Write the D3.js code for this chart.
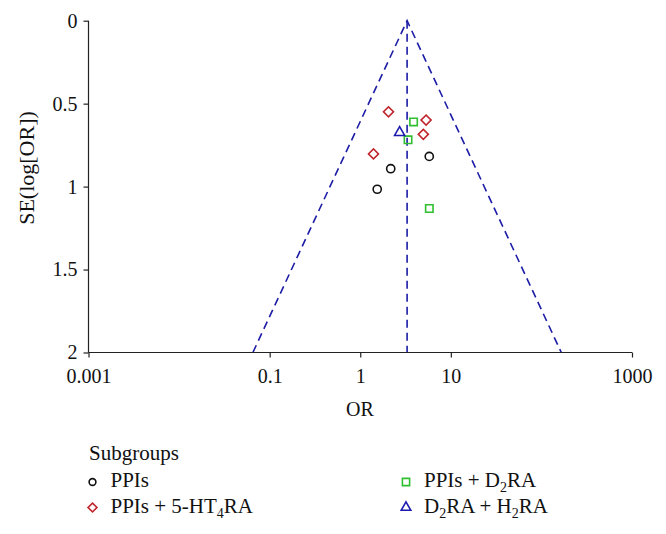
<!DOCTYPE html>
<html><head><meta charset="utf-8">
<script src="https://cdn.jsdelivr.net/npm/d3@7"></script>
<style>body{margin:0;background:#fff}svg{display:block}text{font-family:"Liberation Serif","DejaVu Serif",serif}</style>
</head><body>
<svg id="c" width="666" height="534"></svg>
<script>
// Data
const subgroups = ["PPIs", "PPIs + 5-HT4RA", "PPIs + D2RA", "D2RA + H2RA"];
const ppisOR = [5.78, 2.17, 1.54];
const ppisSE = [0.818, 0.892, 1.016];
const ppis5htOR = [2.05, 5.33, 4.97, 1.40];
const ppis5htSE = [0.549, 0.599, 0.685, 0.803];
const ppisD2OR = [3.88, 3.37, 5.79];
const ppisD2SE = [0.610, 0.718, 1.132];
const d2h2OR = [2.72];
const d2h2SE = [0.674];
const pooledOR = 3.29;
const xTicks = [0.001, 0.1, 1, 10, 1000];
const xTickLabels = ["0.001", "0.1", "1", "10", "1000"];
const yTicks = [0, 0.5, 1, 1.5, 2];

const svg = d3.select("#c");
const x = d3.scaleLog().domain([0.001, 1000]).range([88.5, 632]);
const y = d3.scaleLinear().domain([0, 2]).range([20.7, 352.5]);

const dashCol = "#1c1ca6";
// funnel
const seDom = y.domain();
const funnel = d3.line().x(d => x(d[0])).y(d => y(d[1]));
const lo = seDom.map(s => [Math.exp(Math.log(pooledOR) - 1.96 * s), s]);
const hi = seDom.map(s => [Math.exp(Math.log(pooledOR) + 1.96 * s), s]);
const g = svg.append("g");
g.append("path").attr("d", funnel(lo.slice().reverse().concat(hi)))
  .attr("fill", "none").attr("stroke", dashCol).attr("stroke-width", 1.6).attr("stroke-dasharray", "8,5");
g.append("path").attr("d", funnel(seDom.map(s => [pooledOR, s])))
  .attr("fill", "none").attr("stroke", dashCol).attr("stroke-width", 1.6).attr("stroke-dasharray", "8,5");

// axes
const xa = svg.append("g").attr("transform", `translate(0,${y(2)})`)
  .call(d3.axisBottom(x).tickValues(xTicks).tickFormat((d, i) => xTickLabels[i]).tickSize(5).tickPadding(11));
const ya = svg.append("g").attr("transform", `translate(${x(0.001)},0)`)
  .call(d3.axisLeft(y).tickValues(yTicks).tickFormat(d => String(d)).tickSize(5).tickPadding(6));
[xa, ya].forEach(a => {
  a.select(".domain").attr("stroke", "#222").attr("stroke-width", 1.2);
  a.selectAll(".tick line").attr("stroke", "#222").attr("stroke-width", 1.2);
  a.selectAll("text").attr("font-size", 20).attr("fill", "#111")
   .style("font-family", '"Liberation Serif","DejaVu Serif",serif');
});
xa.select(".domain").attr("d", `M${x.range()[0]},0H${x.range()[1]}`);
ya.select(".domain").attr("d", `M0,${y.range()[0]}V${y.range()[1]}`);

svg.append("text").attr("x", 360).attr("y", 416).attr("text-anchor", "middle")
  .attr("font-size", 20).attr("fill", "#111").text("OR");
svg.append("text").attr("transform", "translate(34,168) rotate(-90)").attr("text-anchor", "middle")
  .attr("font-size", 22).attr("fill", "#111").text("SE(log[OR])");

// series styles
const styles = [
  {sym: d3.symbolCircle, size: 52, col: "#111111", rot: 0},
  {sym: d3.symbolSquare, size: 50, col: "#c0242c", rot: 45},
  {sym: d3.symbolSquare, size: 55, col: "#2fbf2f", rot: 0},
  {sym: d3.symbolTriangle, size: 44, col: "#1c1cb0", rot: 0}
];
const seriesOR = [ppisOR, ppis5htOR, ppisD2OR, d2h2OR];
const seriesSE = [ppisSE, ppis5htSE, ppisD2SE, d2h2SE];
seriesOR.forEach((ors, k) => {
  const st = styles[k];
  svg.append("g").selectAll("path").data(ors.map((o, i) => [o, seriesSE[k][i]])).join("path")
    .attr("d", d3.symbol(st.sym, st.size))
    .attr("transform", d => `translate(${x(d[0])},${y(d[1])}) rotate(${st.rot})`)
    .attr("fill", "none").attr("stroke", st.col).attr("stroke-width", 1.6);
});

// legend
const lg = svg.append("g");
lg.append("text").attr("x", 89).attr("y", 460).attr("font-size", 21).attr("fill", "#111").text("Subgroups");
const legPos = [[92.5, 482], [92.5, 507.5], [406, 482], [406, 507.5]];
const legSizes = [36, 40, 52, 40];
function addLabel(sel, name) {
  const parts = [];
  const re = /(\d)(?=RA)/g;
  let last = 0, r;
  while ((r = re.exec(name)) !== null) {
    parts.push([name.slice(last, r.index), false]);
    parts.push([r[1], true]);
    last = r.index + 1;
  }
  parts.push([name.slice(last), false]);
  let prevSub = false;
  parts.forEach(([t, sub]) => {
    if (!t) return;
    const ts = sel.append("tspan").text(t);
    if (sub) { ts.attr("font-size", 14).attr("dy", 5); prevSub = true; }
    else if (prevSub) { ts.attr("dy", -5); prevSub = false; }
  });
}
subgroups.forEach((name, k) => {
  const st = styles[k];
  const [px, py] = legPos[k];
  lg.append("path").attr("d", d3.symbol(st.sym, legSizes[k])())
    .attr("transform", `translate(${px},${py}) rotate(${st.rot})`)
    .attr("fill", "none").attr("stroke", st.col).attr("stroke-width", 1.6);
  const t = lg.append("text").attr("x", px + 18).attr("y", py + 5).attr("font-size", 21).attr("fill", "#111");
  addLabel(t, name);
});
</script>
</body></html>
